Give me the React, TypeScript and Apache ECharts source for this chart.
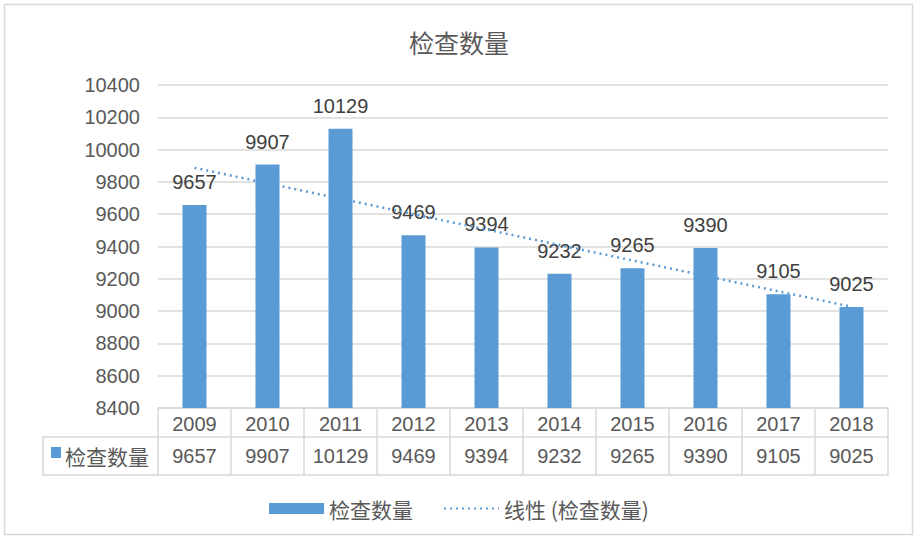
import React, { useEffect, useRef } from "react";
import * as echarts from "echarts";

const years = ["2009", "2010", "2011", "2012", "2013", "2014", "2015", "2016", "2017", "2018"];
const counts = [9657, 9907, 10129, 9469, 9394, 9232, 9265, 9390, 9105, 9025];
// Linear trendline end points
const trendYears = ["2009", "2018"];
const trendValues = [9887, 9027];
const seriesName = "检查数量";
const trendName = "线性 (检查数量)";

const FONT = "'Liberation Sans', 'Noto Sans CJK SC', sans-serif";
const CJK = "'Noto Sans CJK SC', sans-serif";
const GRID_COLOR = "#d9d9d9";
const TEXT = "#595959";
const BLUE = "#5b9bd5";

export default function App() {
  const ref = useRef<HTMLDivElement>(null);
  useEffect(() => {
    if (!ref.current) return;
    const chart = echarts.init(ref.current, null, { renderer: "svg" });
    chart.setOption({
      animation: false,
      backgroundColor: "#ffffff",
      title: {
        text: seriesName,
        left: "center",
        top: 24,
        textStyle: { fontFamily: CJK, fontSize: 25, fontWeight: "normal", color: TEXT },
      },
      grid: { left: 158, right: 30, top: 85, bottom: 132 },
      legend: {
        left: "center",
        top: 493,
        itemWidth: 55,
        itemHeight: 11,
        itemGap: 30,
        textStyle: { fontFamily: CJK, fontSize: 21, color: TEXT },
        data: [
          { name: seriesName, icon: "rect" },
          { name: trendName, itemStyle: { opacity: 0 } },
        ],
      },
      xAxis: [
        {
          type: "category",
          data: years,
          position: "bottom",
          axisLine: { show: true, lineStyle: { color: GRID_COLOR, width: 1.5 } },
          axisTick: { show: true, length: 67, interval: 0, lineStyle: { color: GRID_COLOR, width: 1.5 } },
          axisLabel: { margin: 6, fontSize: 20, color: TEXT, fontFamily: FONT, interval: 0 },
        },
        {
          type: "category",
          data: counts.map(String),
          position: "bottom",
          offset: 29,
          axisLine: { show: true, lineStyle: { color: GRID_COLOR, width: 1.5 } },
          axisTick: { show: false },
          axisLabel: { margin: 9, fontSize: 20, color: TEXT, fontFamily: FONT, interval: 0 },
        },
        {
          type: "category",
          data: years,
          position: "bottom",
          offset: 67,
          axisLine: { show: true, lineStyle: { color: GRID_COLOR, width: 1.5 } },
          axisTick: { show: false },
          axisLabel: { show: false },
        },
      ],
      yAxis: {
        type: "value",
        min: 8400,
        max: 10400,
        interval: 200,
        axisLine: { show: false },
        axisTick: { show: false },
        splitLine: { lineStyle: { color: GRID_COLOR, width: 1.5 } },
        axisLabel: {
          margin: 18,
          fontSize: 20,
          color: TEXT,
          fontFamily: FONT,
          formatter: (v: number) => String(v),
        },
      },
      series: [
        {
          name: seriesName,
          type: "bar",
          data: counts,
          barWidth: 24,
          itemStyle: { color: BLUE },
          label: {
            show: true,
            position: "top",
            distance: 13,
            fontSize: 20,
            color: "#404040",
            fontFamily: FONT,
          },
          z: 2,
        },
        {
          name: trendName,
          type: "line",
          data: trendYears.map((y, i) => [y, trendValues[i]]),
          symbol: "none",
          lineStyle: { color: BLUE, width: 2.5, type: [2, 4] },
          itemStyle: { color: BLUE },
          z: 3,
        },
      ],
      graphic: [
        {
          type: "rect",
          shape: { x: 4.5, y: 4.5, width: 908, height: 530 },
          style: { fill: "none", stroke: GRID_COLOR, lineWidth: 1.5 },
          silent: true,
        },
        {
          type: "polyline",
          shape: { points: [[158, 437], [43, 437], [43, 475], [158, 475]] },
          style: { fill: "none", stroke: GRID_COLOR, lineWidth: 1.5 },
          silent: true,
        },
        {
          type: "rect",
          shape: { x: 51, y: 447, width: 10, height: 11 },
          style: { fill: BLUE },
          silent: true,
        },
        {
          type: "text",
          x: 65,
          y: 456,
          style: {
            text: seriesName,
            fontFamily: CJK,
            fontSize: 21,
            fill: TEXT,
            verticalAlign: "middle",
            align: "left",
          },
          silent: true,
        },
      ],
    });
    return () => chart.dispose();
  }, []);
  return (
    <div
      ref={ref}
      style={{ position: "absolute", left: 0, top: 0, width: 918, height: 540, background: "#fff" }}
    />
  );
}
